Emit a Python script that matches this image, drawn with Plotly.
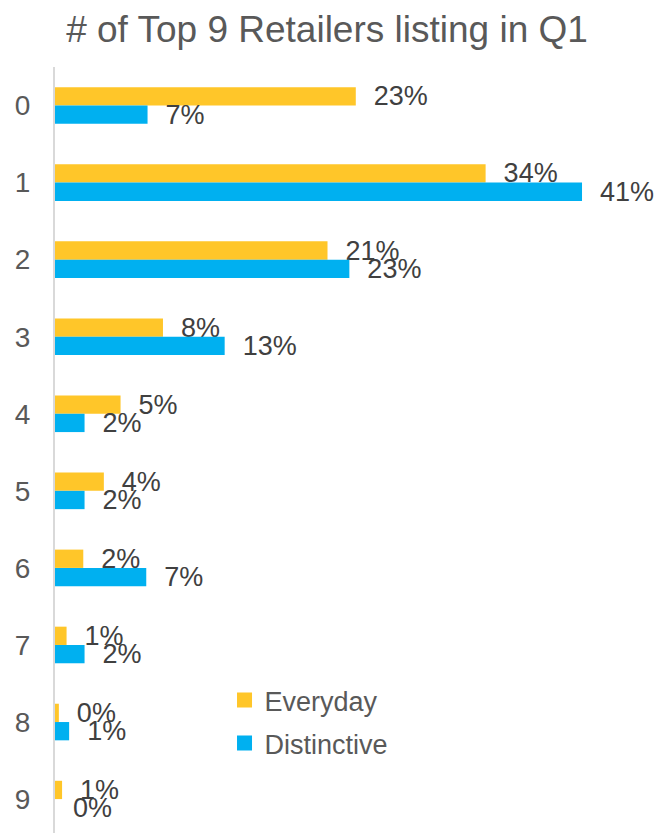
import plotly.graph_objects as go

# Number of top-9 retailers listing the product in Q1 (share of products, %)
categories = ["0", "1", "2", "3", "4", "5", "6", "7", "8", "9"]
everyday = [23.4, 33.5, 21.2, 8.4, 5.1, 3.8, 2.2, 0.9, 0.3, 0.55]
distinctive = [7.2, 41.0, 22.9, 13.2, 2.3, 2.3, 7.1, 2.3, 1.1, 0.0]

series_names = ["Everyday", "Distinctive"]
series_colors = ["#FFC629", "#00B0F0"]

FONT = "Liberation Sans, Arial, sans-serif"
label_color = "#404040"
text_color = "#595959"

fig = go.Figure()
for name, values, color in zip(series_names, [everyday, distinctive], series_colors):
    fig.add_trace(go.Bar(
        y=categories,
        x=values,
        name=name,
        orientation="h",
        marker=dict(color=color, line=dict(width=0)),
        texttemplate="  %{x:.0f}%",
        textposition="outside",
        constraintext="none",
        cliponaxis=False,
        textfont=dict(family=FONT, size=27, color=label_color),
        hoverinfo="skip",
        showlegend=False,
    ))

# Legend entries with square swatches
for name, color in zip(series_names, series_colors):
    fig.add_trace(go.Scatter(
        x=[None], y=[None],
        mode="markers",
        name=name,
        legendgroup=name,
        marker=dict(symbol="square", size=15, color=color),
        hoverinfo="skip",
        showlegend=True,
    ))

fig.update_layout(
    width=654,
    height=833,
    margin=dict(l=55, r=0, t=67, b=0),
    paper_bgcolor="white",
    plot_bgcolor="white",
    barmode="group",
    bargap=0.525,
    bargroupgap=0,
    title=dict(
        text="# of Top 9 Retailers listing in Q1",
        font=dict(family=FONT, size=37, color=text_color),
        x=0.5, xanchor="center",
        y=1 - 29 / 833, yanchor="middle", yref="container",
    ),
    xaxis=dict(
        range=[0, 46.6],
        showgrid=False, zeroline=False, showticklabels=False, showline=False,
    ),
    yaxis=dict(
        type="category",
        range=[9.44, -0.5],
        showgrid=False, zeroline=False,
        showline=True, linecolor="#D9D9D9", linewidth=2,
        ticks="",
        ticklabelstandoff=17,
        tickfont=dict(family=FONT, size=28, color=text_color),
    ),
    legend=dict(
        x=0.283, y=0.205, xanchor="left", yanchor="top",
        font=dict(family=FONT, size=27, color=text_color),
        bgcolor="rgba(0,0,0,0)",
        traceorder="grouped",
        tracegroupgap=5,
    ),
    showlegend=True,
)

fig.write_html("out.html")
